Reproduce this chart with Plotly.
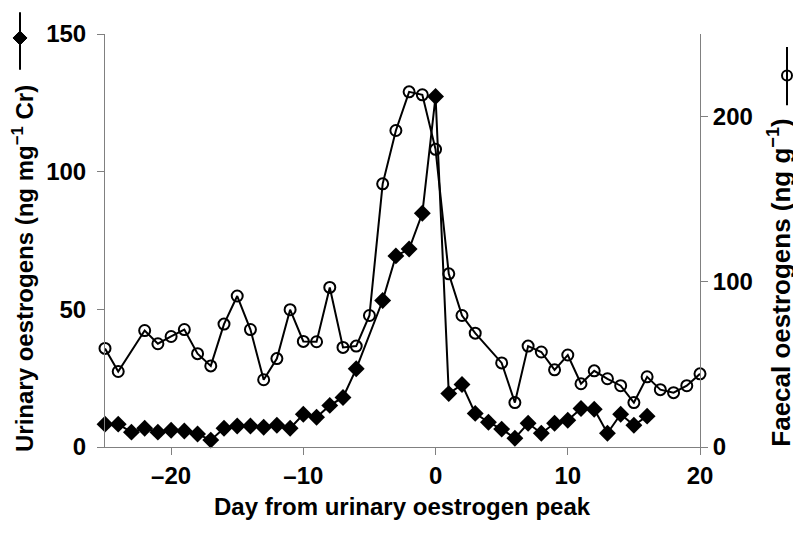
import plotly.graph_objects as go

# ---- data ----
urinary_days = [-25, -24, -23, -22, -21, -20, -19, -18, -17, -16, -15, -14, -13, -12, -11,
                -10, -9, -8, -7, -6, -4, -3, -2, -1, 0, 1, 2, 3, 4, 5, 6, 7, 8, 9, 10,
                11, 12, 13, 14, 15, 16]
urinary_vals = [8.3, 8.3, 5.4, 6.8, 5.4, 6.1, 5.8, 4.7, 2.5, 6.8, 7.6, 7.6, 7.2, 7.9, 6.8,
                11.9, 10.8, 15.1, 18.0, 28.4, 53.2, 69.4, 71.9, 84.9, 127.3, 19.4, 22.7, 12.2,
                9.0, 6.5, 3.2, 8.6, 5.0, 8.6, 9.7, 14.0, 13.7, 5.0, 11.9, 7.9, 11.2]

faecal_days = [-25, -24, -22, -21, -20, -19, -18, -17, -16, -15, -14, -13, -12, -11, -10,
               -9, -8, -7, -6, -5, -4, -3, -2, -1, 0, 1, 2, 3, 5, 6, 7, 8, 9, 10, 11, 12,
               13, 14, 15, 16, 17, 18, 19, 20]
faecal_vals = [59.7, 45.7, 70.5, 62.5, 66.9, 71.1, 56.5, 49.1, 74.4, 91.4, 71.1, 40.7, 53.5,
               83.1, 63.9, 63.7, 96.6, 60.3, 61.1, 79.6, 159.3, 191.6, 215.0, 213.2, 180.2,
               104.8, 79.6, 68.9, 50.9, 26.9, 61.1, 57.5, 46.7, 55.7, 38.3, 46.1, 41.3, 37.1,
               26.9, 42.5, 34.7, 32.9, 37.1, 44.3]

x_ticks = [-20, -10, 0, 10, 20]
x_tick_text = ["\u201320", "\u201310", "0", "10", "20"]
y1_ticks = [0, 50, 100, 150]
y2_ticks = [0, 100, 200]

FONT = "Liberation Sans, Arial, sans-serif"
AX = "#808080"

fig = go.Figure()
fig.add_trace(go.Scatter(
    x=urinary_days, y=urinary_vals, mode="lines+markers", yaxis="y",
    line=dict(color="black", width=2),
    marker=dict(symbol="diamond", size=13, color="black"),
    cliponaxis=False, showlegend=False))
fig.add_trace(go.Scatter(
    x=faecal_days, y=faecal_vals, mode="lines+markers", yaxis="y2",
    line=dict(color="black", width=2),
    marker=dict(symbol="circle-open", size=11, color="black", line=dict(width=2)),
    cliponaxis=False, showlegend=False))

axis_common = dict(showline=True, linecolor=AX, linewidth=1, ticks="outside",
                   ticklen=7, tickwidth=1, tickcolor=AX, showgrid=False, zeroline=False,
                   tickfont=dict(family=FONT, size=24, color="black", weight="bold"))

# page has an 8px body margin: figure is drawn 8px in from the top-left corner
fig.update_layout(
    width=793, height=525,
    margin=dict(l=97, r=101, t=22, b=86),
    paper_bgcolor="white", plot_bgcolor="white",
    xaxis=dict(range=[-25, 20], tickvals=x_ticks, ticktext=x_tick_text, **axis_common),
    yaxis=dict(range=[0, 150], tickvals=y1_ticks, ticklabelstandoff=6, **axis_common),
    yaxis2=dict(range=[0, 250], tickvals=y2_ticks, overlaying="y", side="right", **axis_common),
)

def px_x(px):
    return (px - 105) / 595

def px_y(py):
    return (447 - py) / 417

title_font = dict(family=FONT, size=24, color="black", weight="bold")
fig.add_annotation(text="Day from urinary oestrogen peak", xref="paper", yref="paper",
                   x=0.5, y=px_y(507), xanchor="center", yanchor="middle",
                   showarrow=False, font=title_font)
fig.add_annotation(text="Urinary oestrogens (ng mg<sup>\u22121</sup> Cr)", xref="paper", yref="paper",
                   x=px_x(23), y=px_y(80), xanchor="center", yanchor="top", textangle=-90,
                   showarrow=False, font=title_font)
fig.add_annotation(text="Faecal oestrogens (ng g<sup>\u22121</sup>)", xref="paper", yref="paper",
                   x=px_x(780), y=px_y(113), xanchor="center", yanchor="top", textangle=-90,
                   showarrow=False, font=dict(family=FONT, size=26, color="black", weight="bold"))

# legend keys next to the axis titles
fig.add_shape(type="line", xref="paper", yref="paper", x0=px_x(20), x1=px_x(20),
              y0=px_y(8), y1=px_y(66), line=dict(color="black", width=2))
fig.add_shape(type="path", xref="paper", yref="paper", xsizemode="pixel", ysizemode="pixel",
              xanchor=px_x(20), yanchor=px_y(34), path="M -7 0 L 0 7 L 7 0 L 0 -7 Z",
              fillcolor="black", line=dict(color="black", width=1))
fig.add_shape(type="line", xref="paper", yref="paper", x0=px_x(787), x1=px_x(787),
              y0=px_y(43), y1=px_y(102), line=dict(color="black", width=2))
fig.add_shape(type="circle", xref="paper", yref="paper", xsizemode="pixel", ysizemode="pixel",
              xanchor=px_x(787), yanchor=px_y(72), x0=-5, x1=5, y0=-5, y1=5,
              fillcolor="rgba(0,0,0,0)", line=dict(color="black", width=2))

fig.write_html("out.html")
